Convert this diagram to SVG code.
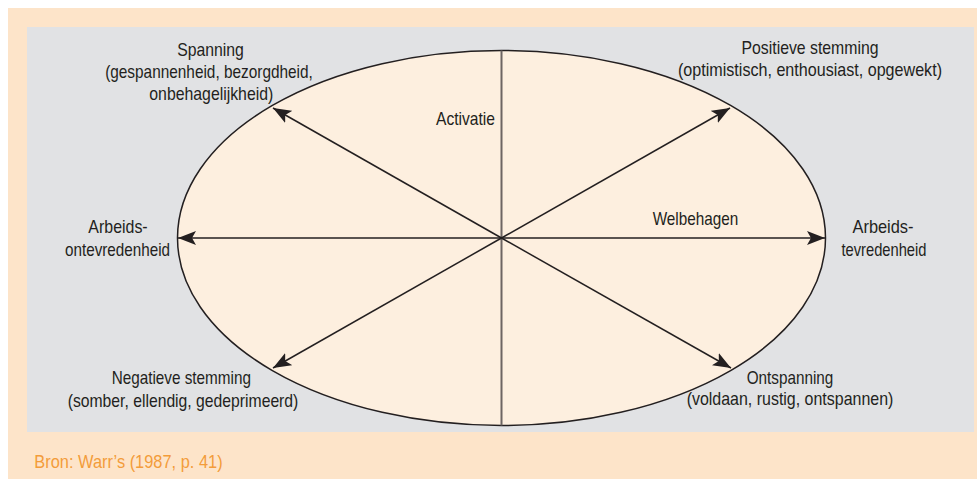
<svg xmlns="http://www.w3.org/2000/svg" width="977" height="479" viewBox="0 0 977 479">
<style>
.t{font-family:"Liberation Sans",Arial,sans-serif;font-size:18.5px;fill:#231f20;text-anchor:middle}
.src{font-family:"Liberation Sans",Arial,sans-serif;font-size:18.5px;fill:#f39c3a}
.ar{stroke:#231f20;stroke-width:1.5;fill:none;marker-end:url(#ah)}
</style>
<defs>
<marker id="ah" markerUnits="userSpaceOnUse" markerWidth="19" markerHeight="14" refX="18" refY="7" orient="auto">
<path d="M0,0 L18,7 L0,14 L4,7 Z" fill="#231f20"/>
</marker>
</defs>
<rect x="8" y="8" width="969" height="471" fill="#fde4c9"/>
<rect x="27" y="27" width="947" height="405" fill="#e1e2e4"/>
<ellipse id="ellipse" cx="501.5" cy="238" rx="324" ry="187.5" fill="#fdefdf" stroke="#231f20" stroke-width="1.5"/>
<g id="connectors">
<line x1="501.5" y1="50.5" x2="501.5" y2="425.5" stroke="#6d6563" stroke-width="2"/>
<line class="ar" x1="501.5" y1="238" x2="178" y2="238"/>
<line class="ar" x1="501.5" y1="238" x2="825" y2="238"/>
<line class="ar" x1="501.5" y1="238" x2="273" y2="108"/>
<line class="ar" x1="501.5" y1="238" x2="730" y2="108"/>
<line class="ar" x1="501.5" y1="238" x2="273" y2="368"/>
<line class="ar" x1="501.5" y1="238" x2="731" y2="368"/>
</g>
<g id="spanning">
<text class="t" x="210.5" y="55.5" textLength="66.7" lengthAdjust="spacingAndGlyphs">Spanning</text>
<text class="t" x="209" y="77.5" textLength="207.7" lengthAdjust="spacingAndGlyphs">(gespannenheid, bezorgdheid,</text>
<text class="t" x="211.3" y="99.5" textLength="124" lengthAdjust="spacingAndGlyphs">onbehagelijkheid)</text>
</g>
<g id="positief">
<text class="t" x="810" y="53.5" textLength="137" lengthAdjust="spacingAndGlyphs">Positieve stemming</text>
<text class="t" x="810" y="75.5" textLength="264" lengthAdjust="spacingAndGlyphs">(optimistisch, enthousiast, opgewekt)</text>
</g>
<g id="activatie"><text class="t" x="465.5" y="125" textLength="59" lengthAdjust="spacingAndGlyphs">Activatie</text></g>
<g id="welbehagen"><text class="t" x="695.5" y="225" textLength="85.7" lengthAdjust="spacingAndGlyphs">Welbehagen</text></g>
<g id="ontevreden">
<text class="t" x="118" y="233.3" textLength="59.3" lengthAdjust="spacingAndGlyphs">Arbeids-</text>
<text class="t" x="117.5" y="256" textLength="105" lengthAdjust="spacingAndGlyphs">ontevredenheid</text>
</g>
<g id="tevreden">
<text class="t" x="883" y="233" textLength="61" lengthAdjust="spacingAndGlyphs">Arbeids-</text>
<text class="t" x="884" y="256" textLength="85" lengthAdjust="spacingAndGlyphs">tevredenheid</text>
</g>
<g id="negatief">
<text class="t" x="181.3" y="384.3" textLength="139.3" lengthAdjust="spacingAndGlyphs">Negatieve stemming</text>
<text class="t" x="183" y="406.7" textLength="230.7" lengthAdjust="spacingAndGlyphs">(somber, ellendig, gedeprimeerd)</text>
</g>
<g id="ontspanning">
<text class="t" x="790" y="384" textLength="86.7" lengthAdjust="spacingAndGlyphs">Ontspanning</text>
<text class="t" x="790" y="405" textLength="206.7" lengthAdjust="spacingAndGlyphs">(voldaan, rustig, ontspannen)</text>
</g>
<text class="src" x="34.3" y="468" textLength="188.3" lengthAdjust="spacingAndGlyphs">Bron: Warr’s (1987, p. 41)</text>
</svg>
